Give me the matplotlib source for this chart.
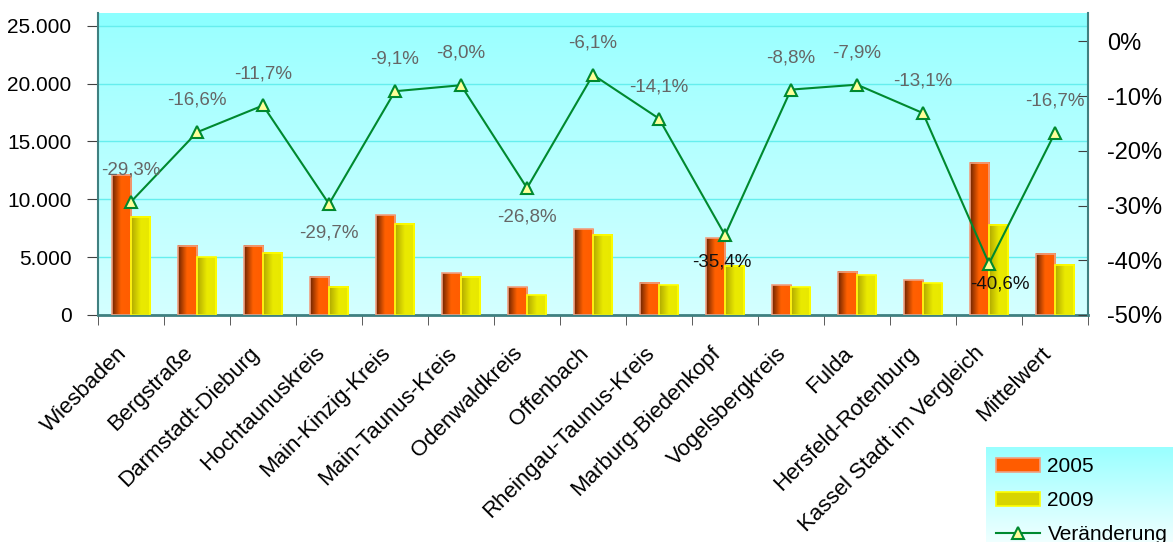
import numpy as np
import matplotlib
matplotlib.use("Agg")
import matplotlib.pyplot as plt
import matplotlib.transforms as mtransforms
from matplotlib.colors import LinearSegmentedColormap
from matplotlib.lines import Line2D
from matplotlib.patches import Patch
from matplotlib.ticker import FuncFormatter, FixedLocator

plt.rcParams['font.family'] = ['Liberation Sans', 'DejaVu Sans']

categories = ["Wiesbaden", "Bergstraße", "Darmstadt-Dieburg", "Hochtaunuskreis",
              "Main-Kinzig-Kreis", "Main-Taunus-Kreis", "Odenwaldkreis", "Offenbach",
              "Rheingau-Taunus-Kreis", "Marburg-Biedenkopf", "Vogelsbergkreis", "Fulda",
              "Hersfeld-Rotenburg", "Kassel Stadt im Vergleich", "Mittelwert"]
values_2005 = [12100, 6000, 6000, 3300, 8600, 3600, 2400, 7400, 2800, 6650, 2550, 3750, 3000, 13150, 5300]
values_2009 = [8500, 5000, 5400, 2450, 7900, 3300, 1700, 6950, 2550, 4250, 2400, 3450, 2750, 7800, 4350]
change_pct = [-29.3, -16.6, -11.7, -29.7, -9.1, -8.0, -26.8, -6.1, -14.1, -35.4, -8.8, -7.9, -13.1, -40.6, -16.7]
series_names = ["2005", "2009", "Veränderung"]

# label placement style per point
label_style = ['up', 'up', 'up', 'down', 'up', 'up', 'down', 'up', 'up', 'down_black',
               'up', 'up', 'up', 'down_black2', 'up']

W, H = 1173, 542
fig = plt.figure(figsize=(W / 100, H / 100), dpi=100)
ax = fig.add_axes([98 / W, 1 - 315 / H, (1088 - 98) / W, (315 - 13) / H])

# background gradient
bg = LinearSegmentedColormap.from_list('bg', ['#d4ffff', '#b8ffff', '#99ffff'])
grad = np.linspace(0, 1, 256).reshape(-1, 1)
ax.imshow(grad, cmap=bg, extent=[0, 1, 0, 1], transform=ax.transAxes,
          aspect='auto', origin='lower', zorder=0, interpolation='bilinear')
ax.axhspan(25000, 26100, color='#8cffff', zorder=0.2, linewidth=0)
ax.set_facecolor('none')

n = len(categories)
x = np.arange(n)
w = 0.29

orange_cm = LinearSegmentedColormap.from_list('or', [(0, '#6e2400'), (0.45, '#ff6000'), (1, '#ff5c00')])
yellow_cm = LinearSegmentedColormap.from_list('ye', [(0, '#b0a800'), (0.5, '#eaea00'), (1, '#e8e800')])
hgrad = np.linspace(0, 1, 64).reshape(1, -1)

b1 = ax.bar(x - w / 2, values_2005, w, facecolor='none', edgecolor='#f0a080', linewidth=1.2, zorder=3)
b2 = ax.bar(x + w / 2, values_2009, w, facecolor='none', edgecolor='#ffff00', linewidth=1.2, zorder=3)
for bars, cm in ((b1, orange_cm), (b2, yellow_cm)):
    for r in bars:
        x0, y0 = r.get_x(), r.get_y()
        ax.imshow(hgrad, cmap=cm, extent=[x0, x0 + r.get_width(), y0, y0 + r.get_height()],
                  aspect='auto', zorder=2, interpolation='bilinear')

ax.set_xlim(-0.5, n - 0.5)
ax.set_ylim(0, 26100)
ax.yaxis.set_major_locator(FixedLocator([0, 5000, 10000, 15000, 20000, 25000]))
ax.yaxis.set_major_formatter(FuncFormatter(lambda v, p: f"{int(v):,}".replace(',', '.')))
ax.grid(axis='y', color='#66eeee', linewidth=1.0)
for gl in ax.get_ygridlines():
    gl.set_zorder(1)

ax.set_xticks(x)
ax.set_xticklabels(categories, rotation=45, ha='right', va='top', rotation_mode='anchor', fontsize=16)
ax.tick_params(axis='x', which='major', length=0, pad=20)
shift = mtransforms.ScaledTranslation(-0.15, 0, fig.dpi_scale_trans)
for lab in ax.get_xticklabels():
    lab.set_transform(lab.get_transform() + shift)
ax.set_xticks(np.arange(-0.5, n), minor=True)
ax.tick_params(axis='x', which='minor', length=7, color='#404040', direction='out')
ax.tick_params(axis='y', labelsize=15, length=8, color='#404040', direction='out', pad=11)

for s in ['top', 'right']:
    ax.spines[s].set_visible(False)
ax.spines['left'].set_color('#408080')
ax.spines['left'].set_linewidth(1.5)
ax.spines['bottom'].set_color('#408080')
ax.spines['bottom'].set_linewidth(2)

ax2 = ax.twinx()
ax2.set_ylim(-50, 5.2)
ax2.plot(x, change_pct, color='#00892f', linewidth=1.5, marker='^', markersize=9,
         markerfacecolor='#ffff99', markeredgecolor='#00892f', markeredgewidth=1.5, zorder=5)
ax2.yaxis.set_major_locator(FixedLocator([-50, -40, -30, -20, -10, 0]))
ax2.yaxis.set_major_formatter(FuncFormatter(lambda v, p: f"{int(round(v))}%"))
ax2.tick_params(axis='y', labelsize=17, length=7, color='#404040', direction='in', pad=14)
for s in ['top', 'left', 'bottom']:
    ax2.spines[s].set_visible(False)
ax2.spines['right'].set_color('#408080')
ax2.spines['right'].set_linewidth(1.5)

offsets = {'up': (0, 23, '#666666'), 'down': (0, -21, '#666666'),
           'down_black': (-2, -19, '#111111'), 'down_black2': (8, -15, '#111111')}
for xi, v, st in zip(x, change_pct, label_style):
    dx, dy, col = offsets[st]
    ax2.annotate(f"{v:.1f}%".replace('.', ','), (xi, v), xytext=(dx, dy), textcoords='offset points',
                 ha='center', va='center', fontsize=13.5, color=col, zorder=6)

# legend box
lax = fig.add_axes([986 / W, 0, (W - 986) / W, (542 - 447) / H])
lax.imshow(grad, cmap=LinearSegmentedColormap.from_list('lg', ['#f0ffff', '#99ffff']),
           extent=[0, 1, 0, 1], aspect='auto', origin='lower', interpolation='bilinear')
lax.set_xlim(0, 1); lax.set_ylim(0, 1)
lax.axis('off')
handles = [Patch(facecolor='#ff5c00', edgecolor='#f0a080', linewidth=1.2),
           Patch(facecolor='#d8d400', edgecolor='#ffff00', linewidth=1.2),
           Line2D([], [], color='#00892f', linewidth=1.5, marker='^', markersize=8,
                  markerfacecolor='#ffff99', markeredgecolor='#00892f', markeredgewidth=1.5)]
lax.legend(handles, series_names, loc='upper left', bbox_to_anchor=(0.0, 1.0), frameon=False,
           fontsize=15, handlelength=2.1, handleheight=0.63, labelspacing=0.72, handletextpad=0.35,
           borderaxespad=0.3, borderpad=0.2)

fig.savefig('out.png', dpi=100)
